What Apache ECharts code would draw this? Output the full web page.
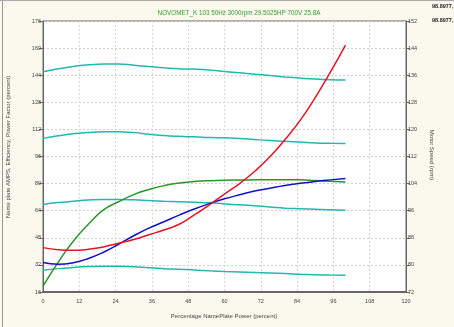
<!DOCTYPE html>
<html><head><meta charset="utf-8">
<script src="https://cdn.jsdelivr.net/npm/echarts@6/dist/echarts.min.js"></script>
<style>html,body{margin:0;padding:0;background:#FBF8EE;}#c{width:454px;height:327px;}</style>
</head><body><div id="c"></div>
<script>
const xValues = [0,5,10,15,20,25,30,35,40,45,50,55,60,65,70,75,80,85,90,95,100];
const cyan1 = [146,147.8,149.2,150.1,150.6,150.6,149.9,149.1,148.4,147.8,147.6,147.1,146.2,145.4,144.6,143.8,143.0,142.3,141.7,141.3,141.1];
const cyan2 = [106.7,108.2,109.4,110.2,110.6,110.6,110.1,109.2,108.4,107.9,107.6,107.2,107.0,106.7,106.0,105.4,105.0,104.5,104.0,103.8,103.7];
const cyan3 = [67.7,68.8,69.6,70.3,70.6,70.6,70.4,70.0,69.6,69.3,69.0,68.7,68.0,67.5,66.9,66.2,65.5,65.2,64.9,64.5,64.3];
const cyan4 = [28.8,29.8,30.5,31.0,31.2,31.2,30.9,30.3,29.8,29.5,29.0,28.5,28.1,27.8,27.5,27.2,26.9,26.5,26.2,26.0,25.9];
const green = [19.5,33.5,46.0,56.0,64.5,69.3,73.5,76.5,78.8,80.4,81.2,81.7,82.0,82.1,82.2,82.3,82.3,82.2,81.8,81.4,81.0];
const red = [42.2,41.0,40.6,41.2,42.6,44.8,47.0,49.8,52.6,56.0,61.5,67.5,73.8,80.0,87.3,95.8,106.0,117.3,130.8,145.8,161.8];
const blue = [33.4,32.4,33.3,35.8,39.5,44.2,49.2,53.7,57.5,61.4,65.0,68.2,71.0,73.4,75.6,77.3,78.9,80.2,81.3,82.2,83.0];
const titleText = 'NOVOMET_K 103 50Hz 3000rpm 29.5025HP 700V 25.8A';
const cornerText = '98.8977,';
const xName = 'Percentage NamePlate Power (percent)';
const leftName = 'Name plate AMPS, Efficiency, Power Factor (percent)';
const rightName = 'Motor Speed (rpm)';

const FONT = 'Liberation Sans';
function pts(arr){ return xValues.map((x,i)=>[x,arr[i]]); }
function line(name, arr, color){
  return {name, type:'line', data:pts(arr), smooth:true, showSymbol:false,
    lineStyle:{color, width:1.5}, itemStyle:{color}, z:3};
}
const chart = echarts.init(document.getElementById('c'), null, {renderer:'canvas'});
const lbl = {fontSize:5.5, color:'#444', fontFamily:FONT};
chart.setOption({
  backgroundColor:'#FBF8EE',
  animation:false,
  grid:{left:43, right:48, top:21, bottom:35, show:true, backgroundColor:'#ffffff', borderColor:'#666', borderWidth:1},
  xAxis:{type:'value', min:0, max:120, interval:12,
    axisLine:{lineStyle:{color:'#666', width:2}}, axisTick:{show:false},
    axisLabel:{...lbl, margin:6},
    splitLine:{show:true, lineStyle:{color:'#d6d6d6', type:[2,2], width:1}}},
  yAxis:[
    {type:'value', min:16, max:176, interval:16, position:'left',
     axisLine:{show:true, lineStyle:{color:'#666'}}, axisTick:{show:true, length:4, lineStyle:{color:'#666'}},
     axisLabel:{...lbl, margin:2},
     splitLine:{show:true, lineStyle:{color:'#cfcfcf', type:[2,2], width:1}}},
    {type:'value', min:72, max:152, interval:8, position:'right',
     axisLine:{show:true, lineStyle:{color:'#666'}}, axisTick:{show:true, length:4, lineStyle:{color:'#666'}},
     axisLabel:{...lbl, margin:2},
     splitLine:{show:false}}
  ],
  series:[
    line('Amps 1', cyan1, '#22B8B0'),
    line('Amps 2', cyan2, '#22B8B0'),
    line('Amps 3', cyan3, '#22B8B0'),
    line('Amps 4', cyan4, '#22B8B0'),
    line('Efficiency', green, '#2A962A'),
    line('Power Factor', blue, '#1010C8'),
    line('Amps', red, '#E41422')
  ],
  graphic:[
    {type:'text', x:239, y:13, style:{text:titleText, fill:'#35A035', font:'6.3px '+FONT, textAlign:'center', textVerticalAlign:'middle'}, z:10},
    {type:'text', left:432, top:3, style:{text:cornerText, fill:'#222', font:'bold 5.5px '+FONT}},
    {type:'text', left:432, top:17, style:{text:cornerText, fill:'#222', font:'bold 5.5px '+FONT}},
    {type:'text', x:224, y:316, style:{text:xName, fill:'#444', font:'6px '+FONT, textAlign:'center', textVerticalAlign:'middle'}},
    {type:'text', x:8, y:147, rotation:Math.PI/2, style:{text:leftName, fill:'#444', font:'6px '+FONT, textAlign:'center', textVerticalAlign:'middle'}},
    {type:'text', x:432, y:155, rotation:-Math.PI/2, style:{text:rightName, fill:'#444', font:'6px '+FONT, textAlign:'center', textVerticalAlign:'middle'}},
    {type:'line', shape:{x1:2.5, y1:0, x2:2.5, y2:327}, style:{stroke:'#999', lineWidth:1}},
    {type:'line', shape:{x1:0, y1:0.5, x2:454, y2:0.5}, style:{stroke:'#aaa', lineWidth:1}}
  ]
});
</script></body></html>
